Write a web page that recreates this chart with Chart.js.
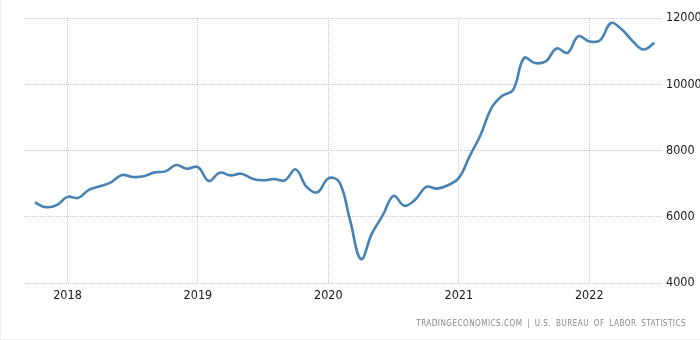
<!DOCTYPE html>
<html>
<head>
<meta charset="utf-8">
<script src="https://cdn.jsdelivr.net/npm/chart.js@4.4.0/dist/chart.umd.min.js"></script>
<style>
  html, body { margin: 0; padding: 0; background: #fff; }
  #wrap { position: relative; width: 700px; height: 340px; box-sizing: border-box; border-left: 1px solid #f0f0f0; border-bottom: 1px solid #f0f0f0; }
  #job-openings { position: absolute; left: 0; top: 0; }
  #source {
    position: absolute; right: 14px; top: 318px;
    font: 8.1px "DejaVu Sans Condensed", sans-serif; letter-spacing: 0.45px; word-spacing: 2px;
    color: #888; white-space: nowrap;
  }
</style>
</head>
<body>
<div id="wrap">
  <canvas id="job-openings" width="700" height="340"></canvas>
  <div id="source">TRADINGECONOMICS.COM | U.S. BUREAU OF LABOR STATISTICS</div>
</div>
<script>
// Offres d'emploi (milliers), mensuel
const months = [
  '2017-10', '2017-11', '2017-12',
  '2018-01', '2018-02', '2018-03', '2018-04', '2018-05', '2018-06', '2018-07', '2018-08', '2018-09', '2018-10', '2018-11', '2018-12',
  '2019-01', '2019-02', '2019-03', '2019-04', '2019-05', '2019-06', '2019-07', '2019-08', '2019-09', '2019-10', '2019-11', '2019-12',
  '2020-01', '2020-02', '2020-03', '2020-04', '2020-05', '2020-06', '2020-07', '2020-08', '2020-09', '2020-10', '2020-11', '2020-12',
  '2021-01', '2021-02', '2021-03', '2021-04', '2021-05', '2021-06', '2021-07', '2021-08', '2021-09', '2021-10', '2021-11', '2021-12',
  '2022-01', '2022-02', '2022-03', '2022-04', '2022-05', '2022-06', '2022-07'
]
const openings = [
  6430, 6290, 6350,
  6600, 6570, 6820, 6920, 7040, 7260, 7200, 7220, 7340, 7370, 7560, 7450,
  7500, 7080, 7330, 7250, 7300, 7150, 7100, 7140, 7100, 7430, 6900, 6740,
  7160, 7050, 5890, 4720, 5490, 6040, 6630, 6330, 6520, 6900, 6850, 6950,
  7170, 7830, 8470, 9280, 9650, 9830, 10790, 10640, 10690, 11080, 10950, 11450,
  11290, 11330, 11850, 11650, 11300, 11050, 11250
]
const yTicks = [4000, 6000, 8000, 10000, 12000]

const tickFont = { family: '"DejaVu Sans Condensed", sans-serif', size: 12.5 }
const gridColor = '#c8c8c8'

// un point par mois, x = index du mois
const points = openings.map((v, i) => ({ x: i, y: v }))
// graduations de l'axe x : uniquement les mois de janvier
const janIdx = months.map((m, i) => m.endsWith('-01') ? i : -1).filter(i => i >= 0)

const ctx = document.getElementById('job-openings')
const MyChart = new Chart(ctx, {
  type: 'line',
  data: {
    datasets: [{
      label: 'Job Offers',
      data: points,
      borderColor: '#4682b4',
      borderWidth: 2.6,
      pointRadius: 0,
      tension: 0.4,
      fill: false
    }]
  },
  options: {
    responsive: false,
    animation: false,
    layout: { padding: { left: 23, top: 18, right: 0, bottom: 0 } },
    plugins: { legend: { display: false }, tooltip: { enabled: false } },
    scales: {
      x: {
        type: 'linear',
        min: -1,
        max: 57.6,
        afterBuildTicks: (scale) => {
          scale.ticks = janIdx.map(i => ({ value: i }))
        },
        afterFit: (scale) => { scale.height = 57 },
        ticks: {
          autoSkip: false,
          maxRotation: 0,
          padding: 5,
          color: '#1a1a1a',
          font: tickFont,
          callback: (value) => months[value] ? months[value].slice(0, 4) : ''
        },
        grid: { color: gridColor, drawTicks: false },
        border: { display: false, dash: [1, 1] }
      },
      y: {
        position: 'right',
        min: 4000,
        max: 12000,
        afterBuildTicks: (scale) => {
          scale.ticks = yTicks.map(v => ({ value: v }))
        },
        afterFit: (scale) => { scale.width = 40 },
        ticks: {
          padding: 5,
          color: '#1a1a1a',
          font: tickFont,
          callback: (value) => String(value)
        },
        grid: { color: gridColor, drawTicks: false },
        border: { display: false, dash: [1, 1] }
      }
    }
  }
})
</script>
</body>
</html>
